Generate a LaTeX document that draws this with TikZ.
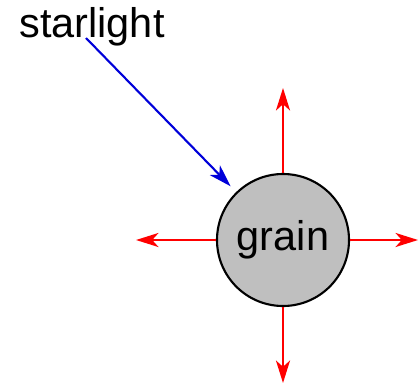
\documentclass[tikz,border=0pt]{standalone}
\usepackage{fontspec}
\setmainfont{Liberation Sans}
\usetikzlibrary{arrows.meta, positioning, calc}
\tikzset{
  glow/.style={-{Stealth[length=16pt, width=10pt, inset=4.5pt]}, red, line width=1.5pt},
  beam/.style={-{Stealth[length=16pt, width=10pt, inset=4.5pt]}, blue!85!black, line width=1.5pt},
}

\begin{document}
\begin{tikzpicture}[font=\fontsize{29.5}{34}\selectfont]
  \useasboundingbox (0,0) rectangle (10.45,9.575);

  % Grain and label
  \node[circle, draw=black, line width=1.5pt, fill=gray!50, minimum size=3.3cm, inner sep=0pt] (grain) at (7.075,3.575) {grain};
  \node[anchor=base] (starlight) at (2.3,8.625) {starlight};

  % Emission
  \coordinate (up) at (7.075,7.375);
  \coordinate (down) at (7.075,0);
  \coordinate (left) at (3.4,3.575);
  \coordinate (right) at (10.45,3.575);
  \draw[glow] (grain.north) -- (up);
  \draw[glow] (grain.south) -- (down);
  \draw[glow] (grain.west) -- (left);
  \draw[glow] (grain.east) -- (right);

  % Incoming light
  \draw[beam, shorten >=0.2cm] ($(starlight.base)+(-0.15,0)$) -- (grain);
\end{tikzpicture}
\end{document}
